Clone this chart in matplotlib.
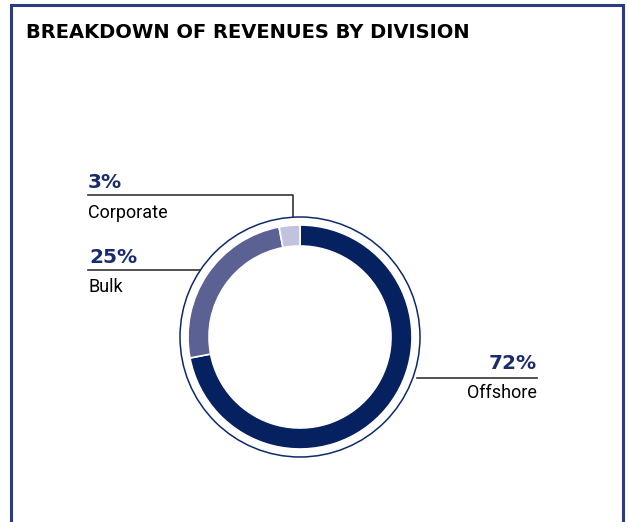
import matplotlib.pyplot as plt
from matplotlib.patches import Circle

divisions = ["Offshore", "Bulk", "Corporate"]
shares = [72, 25, 3]
colors = ["#06215f", "#5c6194", "#c1c2dd"]

W, H = 627, 522
navy = "#1b2c6b"
label_font = ["Roboto", "DejaVu Sans"]


def py(y):
    # pixel row (from the top) -> data y
    return H - y


fig = plt.figure(figsize=(W / 100, H / 100), dpi=100)
ax = fig.add_axes([0, 0, 1, 1])

# donut
cx, cy = 300, py(337)
ax.pie(shares, colors=colors, startangle=90, counterclock=False,
       center=(cx, cy), radius=112, frame=True,
       wedgeprops=dict(width=21, edgecolor="white", linewidth=1.2))
ax.add_patch(Circle((cx, cy), 120, fill=False, edgecolor="#0d2a6b", lw=1.1))
ax.set_xlim(0, W)
ax.set_ylim(0, H)
ax.set_aspect("equal")
ax.axis("off")

# panel frame, open at the bottom
ax.plot([11, 11, 623, 623], [py(530), py(5), py(5), py(530)],
        color="#2b3d7c", lw=2.2, solid_joinstyle="miter")

ax.text(26, py(32), "BREAKDOWN OF REVENUES BY DIVISION", fontsize=14,
        fontweight="bold", family="DejaVu Sans", color="black", va="center")

line_kw = dict(color="#333333", lw=1.2)

# Corporate
ax.plot([88, 293, 293], [py(195), py(195), py(217)], **line_kw)
ax.text(88, py(188), f"{shares[2]}%", fontsize=14.5, fontweight="bold",
        color=navy, va="baseline")
ax.text(88, py(218), divisions[2], fontsize=13, family=label_font,
        color="black", va="baseline")

# Bulk
ax.plot([88, 200], [py(270), py(270)], **line_kw)
ax.text(89, py(263), f"{shares[1]}%", fontsize=14.5, fontweight="bold",
        color=navy, va="baseline")
ax.text(88, py(292), divisions[1], fontsize=13, family=label_font,
        color="black", va="baseline")

# Offshore
ax.plot([417, 537], [py(378), py(378)], **line_kw)
ax.text(537, py(369), f"{shares[0]}%", fontsize=14.5, fontweight="bold",
        color=navy, va="baseline", ha="right")
ax.text(537, py(398), divisions[0], fontsize=13, family=label_font,
        color="black", va="baseline", ha="right")

fig.savefig("out.png", dpi=100)
